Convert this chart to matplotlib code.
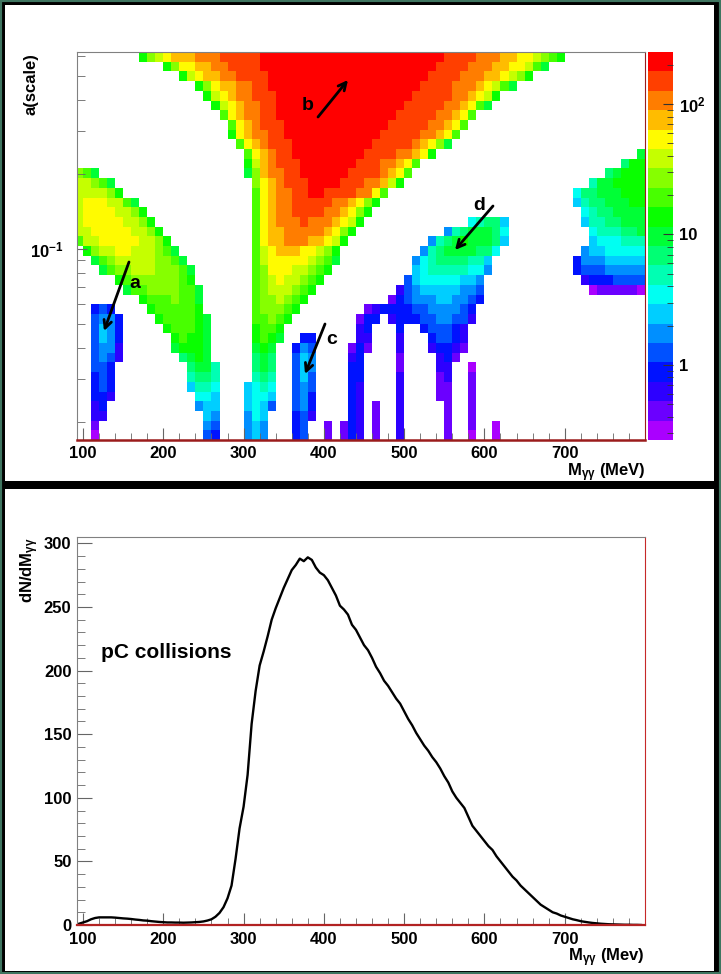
import re
import numpy as np
import matplotlib
matplotlib.use("Agg")
import matplotlib.pyplot as plt
from matplotlib.colors import ListedColormap, BoundaryNorm, hsv_to_rgb
from matplotlib.patches import Rectangle
from matplotlib.ticker import FixedLocator, MultipleLocator, FuncFormatter, NullFormatter

plt.rcParams['font.family'] = ['Liberation Sans', 'DejaVu Sans']
plt.rcParams['mathtext.fontset'] = 'custom'
plt.rcParams['mathtext.rm'] = 'Liberation Sans:bold'
plt.rcParams['mathtext.it'] = 'Liberation Sans:bold'
plt.rcParams['mathtext.bf'] = 'Liberation Sans:bold'
plt.rcParams['mathtext.default'] = 'rm'

# ---------------- data ----------------
MASS_EDGES = np.arange(90, 801, 10)          # 71 mass bins (MeV)
SCALE_TOP, SCALE_BOTTOM = 0.623, 0.01698     # a(scale) axis range
N_ROWS = 40
Z_MIN, Z_MAX = 0.265, 251.0                  # colour scale range
N_LEVELS = 20

# scalogram; rows from top (large scale) to bottom,
# run-length coded: <count><level>, level A..T = contour 0..19, '.' = empty
SCALOGRAM_ROWS = [
    "8.1L1N1O1P3Q3R5S23T4S3R2Q2P1O1N1M1L10.",
    "11.1L1N2P2Q2R4S22T4S3R2Q2P1O1M1K12.",
    "13.1L1O1P2Q2R4S20T4S3R2Q1P1O1N1L14.",
    "15.1L1N1P2Q2R2S19T4S3R1Q1P1O1M1K16.",
    "16.1L1O1P1Q2R3S17T5S2R1Q1P1O1L18.",
    "17.1L1O1P1Q2R2S16T5S2R1Q1P1M1K19.",
    "18.1M1P1Q2R2S15T5S2R1Q1P1M21.",
    "19.1M1P1Q1R3S13T5S2R1Q1P1M22.",
    "19.1L1P1Q2R2S12T5S2R1Q1P1M23.",
    "20.1M1P1Q1R3S10T5S1R1Q1P1N1K24.",
    "21.1M1P1Q1R2S9T4S2R1Q1P1L25.1K",
    "21.1L1O1Q1R3S7T3S2R1Q1P1M25.1J2L",
    "1N1M1K18.1K1N1Q2R2S6T4S1R1Q1P1M24.1J1K3L",
    "2O1N1M1K17.1N1P1Q1R3S4T3S2R1Q1O1L23.1I2K4L",
    "4O1N1L16.1M1P1Q2R2S2T4S2R1P1M23.1H2J3K3L",
    "1O3P2O1M1K14.1M1P1Q2R5S2R1Q1P1N1L24.1G1I2J3K2L",
    "1O4P2O1N1L13.1M1P1Q2R4S2R1Q1P1N1L26.1H1I2J4K",
    "1O5P2O1N1L12.1M1P1Q3R1S3R1Q1P1O1L13.1H1I2J1G9.1G2I2J3K",
    "2O5P2O1N1L11.1M1P2Q5R1Q1P1N1L11.1F1I1J3K1J1H10.1H3I2J1K",
    "1M2O5P2O1N1L10.1M1P2Q3R2Q1P1O1L10.1F1I1J1K1L3K1J1G10.1G3H3I",
    "1.1L1N2O2P3O1N1M1K9.1M1O1P3Q2P1O1N1L10.1F1I1J4K2J1H10.1F2G5H",
    "2.1K1M1N5O2N1M1K8.1M1O5P1O1N1M1K9.1F1H1I4J2I1G10.1D3F5G",
    "3.1K1M2N3O3N1M1K7.1M1N3P2O1N1M1L10.1G1H5I2H1F10.1D3E5F",
    "5.1L1M6N1M1L7.1M1N1O1P2O1N1M1L10.1E1G5H2G1F12.1C3D4E",
    "6.1K2M4N2M1K6.1M1N3O1N1M1L10.1C1E1F5G2F1E13.1A5B1A",
    "8.1L3M1N2M1K6.1M2N1O1N1M1L10.1B1D1E3F2G2F1E1D20.",
    "2.1D1E1D4.1L5M1L6.1M3N1M1L8.1B1C4D2E4F1E1D21.",
    "2.1E2F1D4.1L4M1L1K5.2M1N1M1L8.1B2D1.1C3D2E2F2E1C21.",
    "2.1E1G1F1D5.1L3M1L1K5.1L2M1L9.1C1D3.1D2.1D3E1D1C22.",
    "2.1E1G1F1D6.1L1M2L1K5.1L1M1L1K2.2D5.2C3.1C3.1D2E1D1C22.",
    "2.1E2F1C6.1K3L1K5.1K1L1K2.1D1F1E4.1B1D1B3.1C3.1C2D1C1B22.",
    "2.1E1F1E1C7.1J1K1L1K5.1J1K1J2.1E1G1F4.1C1D4.1B4.1C1D1B23.",
    "2.2E1D9.1J2K1I4.1J1K1J2.1E1G1F4.2D4.1B4.2C2.1A21.",
    "2.1D1E1D9.1I2J1I4.1I1J1I2.1E1G1E4.2D4.1C4.1B1C2.1B21.",
    "2.1D1E1D9.1G2I1H3.1G1H1I1H2.1E1F1E4.1D1C4.1C4.2B2.1B21.",
    "2.2D1C10.2H1G3.1G2H1G2.1E1F1D4.1D1C4.1C4.2B2.1B21.",
    "2.1C1D11.1F2G3.1G1H1G1E2.1E1F1D4.1D1C1.1B2.1C5.1B2.1B21.",
    "2.2C12.1G1F3.1F1H1G3.1D1E1C4.1D1C1.1B2.1C5.1B2.1B21.",
    "2.1B13.1F1E3.1F1G1F3.1D1E2.1B1.1B1D1C1.1B2.1C5.1B2.1B2.1A18.",
    "2.1A13.1E1D3.1F1G1F3.1D1E2.1B1.1B1D1C1.1B2.1C5.1B2.1A2.1A18.",
]

# invariant-mass spectrum (pC collisions), read every 5 MeV
HIST_MASS = np.arange(95, 800, 5)
HIST_COUNTS = [
    1, 2, 3, 4.5, 5.5, 6, 6, 6, 6, 5.8, 5.5, 5.2, 5, 4.7, 4.3, 4, 3.6, 3.4, 3, 2.7,
    2.4, 2.2, 2, 2, 1.9, 1.9, 1.8, 1.9, 2, 2.2, 2.4, 2.8, 3.5, 4.5, 6.5, 9.5, 14, 21, 31, 52,
    76, 93, 118, 158, 184, 204, 215, 227, 240, 249, 257, 265, 272, 279, 283, 288, 286, 289, 287, 281,
    277, 275, 271, 265, 259, 251, 248, 244, 236, 232, 226, 220, 216, 210, 203, 198, 192, 188, 183, 178,
    174, 168, 162, 157, 151, 146, 141, 137, 132, 128, 123, 117, 112, 105, 100, 96, 92, 85, 78, 74,
    70, 66, 62, 59, 54, 50, 46, 42, 38, 35, 31, 28, 25, 22, 19, 16, 14, 12, 10, 9,
    7.5, 6.5, 5.5, 4.5, 3.8, 3, 2.5, 2, 1.6, 1.3, 1, 0.8, 0.6, 0.5, 0.4, 0.3, 0.2, 0.2, 0.1, 0.1,
    0,
]

X_MAJOR = [100, 200, 300, 400, 500, 600, 700]

# ---------------- helpers ----------------
ncol = len(MASS_EDGES) - 1


def decode(row):
    cells = []
    for n, ch in re.findall(r'(\d+)([A-T.])', row):
        cells += [ch] * int(n)
    cells = (cells + ['.'] * ncol)[:ncol]
    return [-1 if c == '.' else ord(c) - 65 for c in cells]


levels = np.array([decode(r) for r in SCALOGRAM_ROWS])[::-1]   # bottom row first
lz0, lz1 = np.log10(Z_MIN), np.log10(Z_MAX)
step = (lz1 - lz0) / N_LEVELS
Z = np.where(levels >= 0, 10 ** (lz0 + (levels + 0.5) * step), np.nan)
Z = np.ma.masked_invalid(Z)
y_edges = np.logspace(np.log10(SCALE_BOTTOM), np.log10(SCALE_TOP), N_ROWS + 1)
bounds = np.logspace(lz0, lz1, N_LEVELS + 1)

hues = (280.0 * (1 - np.arange(N_LEVELS) / (N_LEVELS - 1))) / 360.0
colors = hsv_to_rgb(np.stack([hues, np.ones(N_LEVELS), np.ones(N_LEVELS)], axis=1))
cmap = ListedColormap(colors)
norm = BoundaryNorm(bounds, N_LEVELS)

W, H = 721, 974


def rect(x0, y0, x1, y1):
    return [x0 / W, 1 - y1 / H, (x1 - x0) / W, (y1 - y0) / H]


fig = plt.figure(figsize=(W / 100, H / 100), dpi=100, facecolor='black')
fig.patches.append(Rectangle((5 / W, 1 - 481 / H), 709 / W, 476 / H, transform=fig.transFigure,
                             facecolor='white', edgecolor='none', zorder=-5))
fig.patches.append(Rectangle((5 / W, 1 - 971 / H), 709 / W, 482 / H, transform=fig.transFigure,
                             facecolor='white', edgecolor='none', zorder=-5))
fig.patches.append(Rectangle((0, 0), 1, 1, transform=fig.transFigure, fill=False,
                             edgecolor='#3f7560', lw=3, zorder=-4))

TICKC = '#666666'
FRAME_G = '#808080'
FRAME_R = '#9b1c1c'

# ---------------- top: scalogram ----------------
ax1 = fig.add_axes(rect(77, 52, 645, 440))
ax1.pcolormesh(MASS_EDGES, y_edges, Z, cmap=cmap, norm=norm, shading='flat')
ax1.set_xlim(92.5, 800)
ax1.set_yscale('log')
ax1.set_ylim(SCALE_BOTTOM, SCALE_TOP)
ax1.yaxis.set_major_locator(FixedLocator([0.1]))
ax1.yaxis.set_minor_locator(FixedLocator([0.02, 0.03, 0.04, 0.05, 0.06, 0.07, 0.08, 0.09,
                                          0.2, 0.3, 0.4, 0.5, 0.6]))
ax1.yaxis.set_major_formatter(FuncFormatter(lambda v, p: r'10$^{-1}$'))
ax1.yaxis.set_minor_formatter(NullFormatter())
ax1.xaxis.set_major_locator(FixedLocator(X_MAJOR))
ax1.xaxis.set_minor_locator(MultipleLocator(20))
ax1.tick_params(axis='x', which='major', direction='in', length=9, color=TICKC, pad=4,
                labelsize=12)
ax1.tick_params(axis='x', which='minor', direction='in', length=5, color=TICKC)
ax1.tick_params(axis='y', which='major', direction='in', length=7, color=TICKC, pad=10,
                labelsize=12)
ax1.tick_params(axis='y', which='minor', direction='in', length=6, color=TICKC)
for lab in ax1.get_xticklabels() + ax1.get_yticklabels():
    lab.set_fontweight('bold')
for s in ('left', 'top'):
    ax1.spines[s].set_color(FRAME_G)
ax1.spines['right'].set_color(FRAME_R)
ax1.spines['bottom'].set_color(FRAME_R)
ax1.spines['bottom'].set_linewidth(1.8)


def fx(px):
    return (px - 77) / 568.0


def fy(py):
    return (440 - py) / 388.0


for lab, (tx, ty), (ax_, ay_), (hx, hy) in [
    ('a', (135, 283), (129, 262), (104, 331)),
    ('b', (308, 105), (318, 117), (348, 80)),
    ('c', (332, 340), (325, 324), (305, 374)),
    ('d', (479, 206), (493, 206), (455, 250)),
]:
    ax1.text(fx(tx), fy(ty), lab, transform=ax1.transAxes, ha='center', va='center',
             fontsize=14, fontweight='bold', color='black')
    ax1.annotate('', xy=(fx(hx), fy(hy)), xytext=(fx(ax_), fy(ay_)),
                 xycoords='axes fraction', textcoords='axes fraction',
                 arrowprops=dict(arrowstyle='->', lw=2, color='black', mutation_scale=14,
                                 shrinkA=0, shrinkB=0))

# colour bar
cax = fig.add_axes(rect(648, 52, 673, 440))
cax.pcolormesh([0, 1], bounds, np.arange(N_LEVELS).reshape(-1, 1), cmap=cmap,
               norm=BoundaryNorm(np.arange(N_LEVELS + 1) - 0.5, N_LEVELS))
cax.set_yscale('log')
cax.set_ylim(Z_MIN, Z_MAX)
cax.set_xlim(0, 1)
cax.set_xticks([])
cax.yaxis.tick_right()
cax.yaxis.set_major_locator(FixedLocator([1, 10, 100]))
cax.yaxis.set_minor_locator(FixedLocator([v * d for d in (0.1, 1, 10, 100) for v in range(2, 10)
                                          if Z_MIN < v * d < Z_MAX]))
cax.yaxis.set_major_formatter(FuncFormatter(
    lambda v, p: {1: '1', 10: '10', 100: r'10$^{2}$'}.get(int(round(v)), '')))
cax.yaxis.set_minor_formatter(NullFormatter())
cax.tick_params(axis='y', which='major', direction='in', length=7, color='#333333', pad=4,
                labelsize=12, right=True, left=False)
cax.tick_params(axis='y', which='minor', direction='in', length=4, color='#333333',
                right=True, left=False)
for lab in cax.get_yticklabels():
    lab.set_fontweight('bold')
for s in cax.spines.values():
    s.set_visible(False)

fig.text(31 / W, 1 - 53 / H, 'a(scale)', rotation=90, ha='center', va='top',
         fontsize=12, fontweight='bold')
fig.text(645 / W, 1 - 473 / H, r'M$_{\gamma\gamma}$ (MeV)', ha='right', va='center',
         fontsize=12, fontweight='bold')

# ---------------- bottom: spectrum ----------------
ax2 = fig.add_axes(rect(77, 537, 645, 925))
ax2.plot(HIST_MASS, HIST_COUNTS[:len(HIST_MASS)], color='black', lw=1.7)
ax2.set_xlim(92.5, 800)
ax2.set_ylim(0, 305)
ax2.xaxis.set_major_locator(FixedLocator(X_MAJOR))
ax2.xaxis.set_minor_locator(MultipleLocator(20))
ax2.yaxis.set_major_locator(MultipleLocator(50))
ax2.yaxis.set_minor_locator(MultipleLocator(10))
ax2.tick_params(axis='x', which='major', direction='in', length=9, color=TICKC, pad=5,
                labelsize=12)
ax2.tick_params(axis='x', which='minor', direction='in', length=5, color=TICKC)
ax2.tick_params(axis='y', which='major', direction='in', length=11, color=TICKC, pad=4,
                labelsize=12)
ax2.tick_params(axis='y', which='minor', direction='in', length=6, color=TICKC)
for lab in ax2.get_xticklabels() + ax2.get_yticklabels():
    lab.set_fontweight('bold')
# lift the "0" label slightly so it does not touch the "100" label below it
ax2.get_yticklabels()[0].set_va('bottom')
for s in ('left', 'top'):
    ax2.spines[s].set_color(FRAME_G)
ax2.spines['right'].set_color('#c62828')
ax2.spines['bottom'].set_color('#b22222')
ax2.spines['bottom'].set_linewidth(1.6)

fig.text(101 / W, 1 - 653 / H, 'pC collisions', ha='left', va='center',
         fontsize=15, fontweight='bold')
fig.text(30 / W, 1 - 537 / H, r'dN/dM$_{\gamma\gamma}$', rotation=90, ha='center', va='top',
         fontsize=12, fontweight='bold')
fig.text(645 / W, 1 - 958 / H, r'M$_{\gamma\gamma}$ (Mev)', ha='right', va='center',
         fontsize=12, fontweight='bold')

fig.savefig('out.png', dpi=100, facecolor='black')
